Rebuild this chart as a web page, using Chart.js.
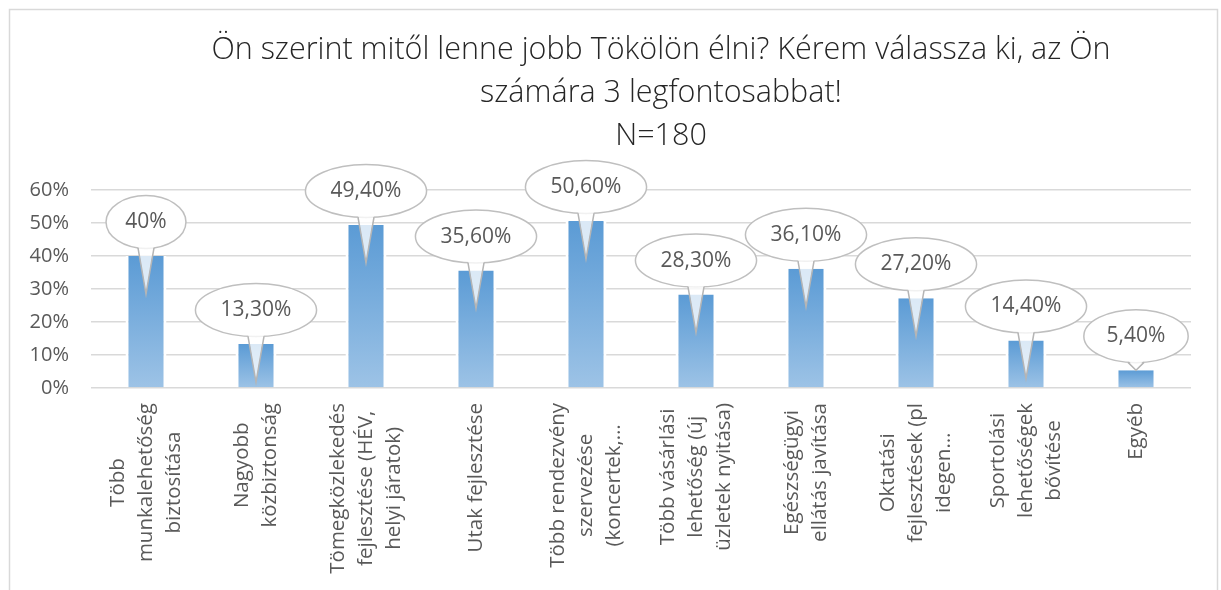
<!DOCTYPE html>
<html>
<head>
<meta charset="utf-8">
<script src="https://cdn.jsdelivr.net/npm/chart.js@4.4.1/dist/chart.umd.min.js"></script>
<style>
  body { margin: 0; background: #fff; }
  #wrap { width: 1221px; height: 590px; position: relative; }
</style>
</head>
<body>
<div id="wrap"><canvas id="barChart"></canvas></div>
<script>
// Adatok
const categories = [
    ['Több', 'munkalehetőség', 'biztosítása'],
    ['Nagyobb', 'közbiztonság'],
    ['Tömegközlekedés', 'fejlesztése (HÉV,', 'helyi járatok)'],
    ['Utak fejlesztése'],
    ['Több rendezvény', 'szervezése', '(koncertek,…'],
    ['Több vásárlási', 'lehetőség (új', 'üzletek nyitása)'],
    ['Egészségügyi', 'ellátás javítása'],
    ['Oktatási', 'fejlesztések (pl', 'idegen…'],
    ['Sportolási', 'lehetőségek', 'bővítése'],
    ['Egyéb']
];
const values = [40, 13.3, 49.4, 35.6, 50.6, 28.3, 36.1, 27.2, 14.4, 5.4];
const valueLabels = ['40%', '13,30%', '49,40%', '35,60%', '50,60%', '28,30%', '36,10%', '27,20%', '14,40%', '5,40%'];
const titleLines = [
    'Ön szerint mitől lenne jobb Tökölön élni? Kérem válassza ki, az Ön',
    'számára 3 legfontosabbat!',
    'N=180'
];

const FONT = "'Open Sans', 'DejaVu Sans', sans-serif";
const TEXT_GRAY = '#595959';

// Keret és cím
const framePlugin = {
    id: 'frame',
    beforeDraw(chart) {
        const c = chart.ctx;
        c.save();
        c.strokeStyle = '#d9d9d9';
        c.lineWidth = 1.5;
        c.beginPath();
        c.moveTo(9.5, 600);
        c.lineTo(9.5, 9.5);
        c.lineTo(1217.5, 9.5);
        c.lineTo(1217.5, 600);
        c.stroke();

        c.fillStyle = '#262626';
        c.font = '300 30.5px ' + FONT;
        c.textAlign = 'center';
        c.textBaseline = 'middle';
        titleLines.forEach((line, i) => {
            c.fillText(line, 661, 50 + i * 43);
        });
        c.restore();
    }
};

// Buborékos adatcímkék
const calloutPlugin = {
    id: 'callouts',
    afterDatasetsDraw(chart) {
        const c = chart.ctx;
        const bars = chart.getDatasetMeta(0).data;
        c.save();
        c.font = '21px ' + FONT;
        bars.forEach((bar, i) => {
            const top = bar.y;
            const h = bar.base - bar.y;
            const tw = c.measureText(valueLabels[i]).width;
            const rx = tw * 0.7 + 11;
            const ry = 26.5;
            const cx = bar.x;
            const cy = top - 34;
            const tipY = h > 30 ? top + 38 : top;
            const half = 8;
            const baseY = cy + ry * Math.sqrt(1 - (half / rx) * (half / rx));

            c.beginPath();
            c.ellipse(cx, cy, rx, ry, 0, 0, Math.PI * 2);
            c.fillStyle = '#fff';
            c.fill();
            c.strokeStyle = '#bfbfbf';
            c.lineWidth = 1.5;
            c.stroke();

            c.beginPath();
            c.moveTo(cx - half, baseY - 2.5);
            c.lineTo(cx + half, baseY - 2.5);
            c.lineTo(cx, tipY);
            c.closePath();
            c.fillStyle = 'rgba(255,255,255,0.78)';
            c.fill();

            c.beginPath();
            c.moveTo(cx - half, baseY);
            c.lineTo(cx, tipY);
            c.lineTo(cx + half, baseY);
            c.strokeStyle = '#b5b5b5';
            c.stroke();

            c.fillStyle = TEXT_GRAY;
            c.textAlign = 'center';
            c.textBaseline = 'middle';
            c.fillText(valueLabels[i], cx, cy);
        });
        c.restore();
    }
};

// Függőleges, középre igazított kategóriafeliratok
const xLabelPlugin = {
    id: 'xLabels',
    afterDraw(chart) {
        const c = chart.ctx;
        const xs = chart.scales.x;
        const topY = chart.chartArea.bottom + 15;
        c.save();
        c.font = '20.5px ' + FONT;
        c.fillStyle = TEXT_GRAY;
        c.textAlign = 'center';
        c.textBaseline = 'middle';
        categories.forEach((lines, i) => {
            const x = xs.getPixelForValue(i);
            const maxW = Math.max(...lines.map(l => c.measureText(l).width));
            lines.forEach((line, j) => {
                const lx = x + (j - (lines.length - 1) / 2) * 28;
                c.save();
                c.translate(lx, topY + maxW / 2);
                c.rotate(-Math.PI / 2);
                c.fillText(line, 0, 0);
                c.restore();
            });
        });
        c.restore();
    }
};

function barGradient(context) {
    const chart = context.chart;
    if (!chart.chartArea) return '#5b9bd5';
    const ys = chart.scales.y;
    const v = values[context.dataIndex];
    const g = chart.ctx.createLinearGradient(0, ys.getPixelForValue(v), 0, ys.getPixelForValue(0));
    g.addColorStop(0, '#5b9bd5');
    g.addColorStop(1, '#9dc3e6');
    return g;
}

new Chart(document.getElementById('barChart'), {
    type: 'bar',
    data: {
        labels: categories.map(l => l.join(' ')),
        datasets: [{
            data: values,
            backgroundColor: barGradient,
            borderColor: '#ffffff',
            borderWidth: { left: 3, right: 3, top: 0, bottom: 0 },
            borderSkipped: false,
            barPercentage: 0.373,
            categoryPercentage: 1
        }]
    },
    options: {
        responsive: true,
        maintainAspectRatio: false,
        animation: false,
        layout: { padding: { left: 0, right: 30, top: 190, bottom: 0 } },
        plugins: {
            legend: { display: false },
            tooltip: { enabled: false },
            title: { display: false }
        },
        scales: {
            x: {
                grid: { display: false },
                border: { display: false },
                ticks: { display: false },
                afterFit: s => { s.height = 202; }
            },
            y: {
                min: 0,
                max: 60,
                ticks: {
                    stepSize: 10,
                    color: TEXT_GRAY,
                    font: { family: FONT, size: 20 },
                    padding: 22,
                    callback: v => v + '%'
                },
                grid: { color: '#d9d9d9', lineWidth: 1.5, drawTicks: false },
                border: { display: false },
                afterFit: s => { s.width = 91; }
            }
        }
    },
    plugins: [framePlugin, calloutPlugin, xLabelPlugin]
});
</script>
</body>
</html>
